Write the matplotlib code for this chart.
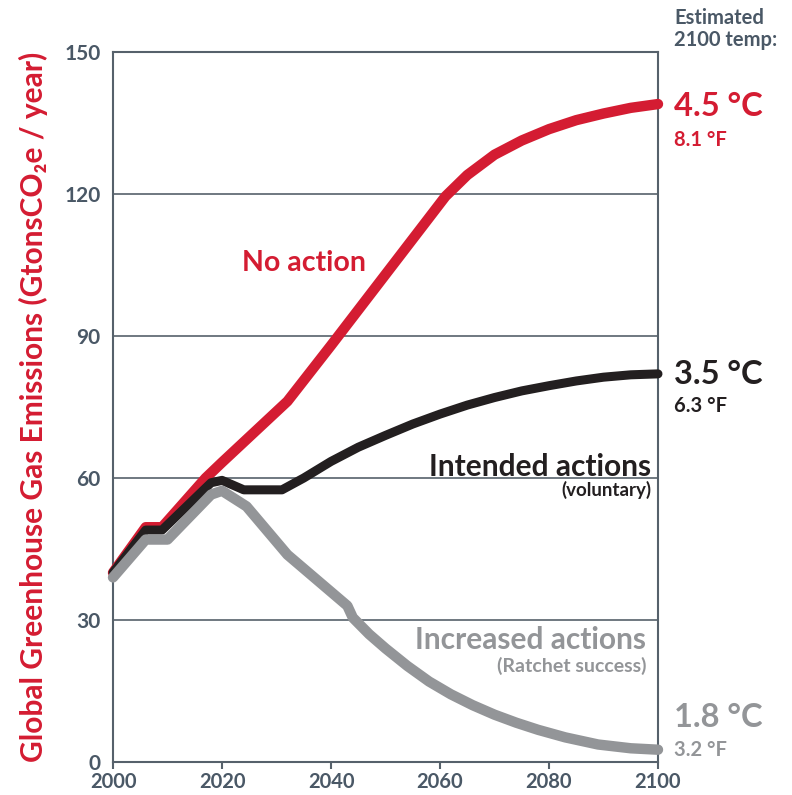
import matplotlib.pyplot as plt

# emissions pathways, Gt CO2e per year
no_action_years = [2000, 2006, 2009, 2017, 2020, 2032, 2040, 2050, 2058, 2061, 2065, 2070, 2075, 2080, 2085, 2090, 2095, 2100]
no_action = [40, 49.6, 49.6, 60, 63.3, 76.2, 88, 103, 115, 119.5, 124, 128.3, 131.3, 133.7, 135.6, 137, 138.2, 139]

intended_years = [2000, 2006, 2009, 2018, 2020, 2024, 2031, 2035, 2040, 2045, 2050, 2055, 2060, 2065, 2070, 2075, 2080, 2085, 2090, 2095, 2100]
intended = [40, 49, 49, 59, 59.5, 57.5, 57.5, 60, 63.5, 66.5, 69, 71.4, 73.5, 75.4, 77, 78.4, 79.5, 80.5, 81.3, 81.8, 82]

increased_years = [2000, 2006, 2010, 2018, 2020, 2024.5, 2032, 2043, 2044, 2047, 2050, 2054, 2058, 2062, 2066, 2070, 2074, 2078, 2083, 2089, 2095, 2100]
increased = [39, 47, 47, 56.5, 57.3, 54, 43.8, 33, 30.5, 27, 24, 20.3, 17, 14.3, 12, 10, 8.3, 6.8, 5.2, 3.7, 2.9, 2.6]

x_ticks = [2000, 2020, 2040, 2060, 2080, 2100]
y_ticks = [0, 30, 60, 90, 120, 150]

RED = '#d41c32'
BLACK = '#231f20'
GRAY = '#939598'
AXIS = '#56616b'
TICK = '#4a5866'

plt.rcParams['font.family'] = ['Lato', 'DejaVu Sans']

fig = plt.figure(figsize=(7.92, 7.95), dpi=100)
ax = fig.add_axes([0.1427, 0.0415, 0.6881, 0.8931])

ax.plot(no_action_years, no_action, color=RED, lw=7.5, solid_capstyle='round', solid_joinstyle='round', clip_on=False, zorder=3)
ax.plot(intended_years, intended, color=BLACK, lw=6.5, solid_capstyle='round', solid_joinstyle='round', clip_on=False, zorder=4)
ax.plot(increased_years, increased, color=GRAY, lw=7.5, solid_capstyle='round', solid_joinstyle='round', clip_on=False, zorder=5)

ax.set_xlim(2000, 2100)
ax.set_ylim(0, 150)
ax.set_xticks(x_ticks)
ax.set_yticks(y_ticks)
ax.grid(axis='y', color=AXIS, lw=1.2)
ax.set_axisbelow(True)
for side in ['left', 'right', 'top', 'bottom']:
    ax.spines[side].set_color(AXIS)
    ax.spines[side].set_linewidth(1.5)
ax.tick_params(axis='x', colors=AXIS, length=5, width=1.5, labelsize=14.5, pad=2.5)
ax.tick_params(axis='y', colors=AXIS, length=0, labelsize=15, pad=9)
for lab in ax.get_xticklabels() + ax.get_yticklabels():
    lab.set_fontweight('bold')
    lab.set_color(TICK)

ax.set_ylabel('Global Greenhouse Gas Emissions (GtonsCO\u2082e / year)', color=RED,
              fontsize=21.5, fontweight='bold', labelpad=12)

# scenario labels inside the plot
ax.text(2035, 105.5, 'No action', color=RED, fontsize=20.5, fontweight='bold', ha='center', va='center')
ax.text(2098.8, 62.3, 'Intended actions', color=BLACK, fontsize=21.5, fontweight='bold', ha='right', va='center')
ax.text(2098.8, 57.5, '(voluntary)', color=BLACK, fontsize=13.5, fontweight='bold', ha='right', va='center')
ax.text(2097.8, 25.8, 'Increased actions', color=GRAY, fontsize=21.5, fontweight='bold', ha='right', va='center')
ax.text(2097.8, 20.2, '(Ratchet success)', color=GRAY, fontsize=14, fontweight='bold', ha='right', va='center')

# estimated temperatures at the right edge
ax.text(2103, 150.5, 'Estimated\n2100 temp:', color=TICK, fontsize=14.5, fontweight='bold',
        ha='left', va='bottom', linespacing=1.1, clip_on=False)
ax.text(2103, 138.5, '4.5 °C', color=RED, fontsize=23.5, fontweight='bold', ha='left', va='center')
ax.text(2103, 131.5, '8.1 °F', color=RED, fontsize=14.5, fontweight='bold', ha='left', va='center')
ax.text(2103, 81.8, '3.5 °C', color=BLACK, fontsize=23.5, fontweight='bold', ha='left', va='center')
ax.text(2103, 75.3, '6.3 °F', color=BLACK, fontsize=14.5, fontweight='bold', ha='left', va='center')
ax.text(2103, 9.5, '1.8 °C', color=GRAY, fontsize=23.5, fontweight='bold', ha='left', va='center')
ax.text(2103, 2.5, '3.2 °F', color=GRAY, fontsize=14.5, fontweight='bold', ha='left', va='center')

fig.savefig('out.png', dpi=100)
